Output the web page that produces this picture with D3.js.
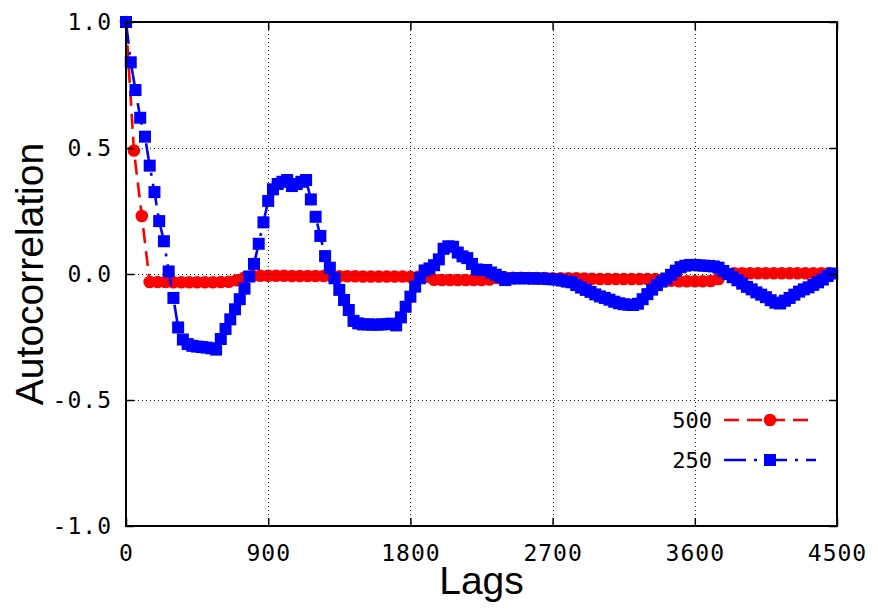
<!DOCTYPE html>
<html>
<head>
<meta charset="utf-8">
<script src="https://cdn.jsdelivr.net/npm/d3@7"></script>
<style>
  html, body { margin: 0; padding: 0; background: #fff; }
  svg { display: block; }
</style>
</head>
<body>
<svg id="chart" width="878" height="614"></svg>
<script>
// Axis ticks
const xTicks = [0, 900, 1800, 2700, 3600, 4500];
const yTicks = [-1.0, -0.5, 0.0, 0.5, 1.0];

// Series names (legend order)
const seriesNames = ["500", "250"];

// Autocorrelation, window 500: one value every 50 lags starting at lag 0
const lagStep500 = 50;
const acf500 = [
  1.0, 0.49, 0.23, -0.032, -0.032, -0.032, -0.033, -0.033, -0.033, -0.033,
  -0.033, -0.033, -0.032, -0.031, -0.025, -0.014, -0.008, -0.007, -0.007, -0.007,
  -0.007, -0.008, -0.008, -0.008, -0.008, -0.008, -0.009, -0.009, -0.009, -0.009,
  -0.010, -0.010, -0.010, -0.010, -0.010, -0.010, -0.011, -0.011, -0.011, -0.023,
  -0.024, -0.024, -0.024, -0.024, -0.024, -0.024, -0.022, -0.016, -0.015, -0.015,
  -0.015, -0.016, -0.016, -0.016, -0.017, -0.017, -0.017, -0.017, -0.018, -0.019,
  -0.020, -0.020, -0.020, -0.020, -0.020, -0.020, -0.020, -0.020, -0.021, -0.027,
  -0.029, -0.029, -0.029, -0.029, -0.028, -0.020, 0.002, 0.003, 0.003, 0.003,
  0.003, 0.003, 0.003, 0.003, 0.003, 0.003, 0.003, 0.003, 0.003, 0.003
];

// Autocorrelation, window 250: one value every 30 lags starting at lag 0
const lagStep250 = 30;
const acf250 = [
  1.0, 0.84, 0.73, 0.62, 0.545, 0.43, 0.325, 0.21, 0.13, 0.01,
  -0.095, -0.212, -0.26, -0.278, -0.285, -0.288, -0.29, -0.292, -0.295, -0.30,
  -0.258, -0.218, -0.18, -0.14, -0.10, -0.058, -0.01, 0.04, 0.12, 0.205,
  0.29, 0.336, 0.357, 0.366, 0.373, 0.349, 0.357, 0.366, 0.373, 0.296,
  0.227, 0.151, 0.071, 0.025, -0.017, -0.063, -0.103, -0.143, -0.186, -0.196,
  -0.20, -0.20, -0.201, -0.201, -0.20, -0.199, -0.197, -0.204, -0.172, -0.13,
  -0.09, -0.05, -0.017, 0.014, 0.022, 0.035, 0.058, 0.10, 0.11, 0.108,
  0.085, 0.07, 0.063, 0.04, 0.018, 0.016, 0.016, 0.006, -0.003, -0.012,
  -0.024, -0.018, -0.017, -0.017, -0.017, -0.017, -0.018, -0.018, -0.018, -0.02,
  -0.021, -0.022, -0.026, -0.03, -0.033, -0.044, -0.054, -0.063, -0.071, -0.081,
  -0.089, -0.095, -0.102, -0.11, -0.116, -0.12, -0.122, -0.123, -0.118, -0.10,
  -0.08, -0.062, -0.044, -0.03, -0.018, -0.003, 0.013, 0.027, 0.033, 0.036,
  0.036, 0.034, 0.033, 0.032, 0.03, 0.025, 0.012, 0.0, -0.013, -0.025,
  -0.038, -0.051, -0.061, -0.073, -0.082, -0.092, -0.104, -0.114, -0.117, -0.106,
  -0.095, -0.082, -0.07, -0.061, -0.053, -0.043, -0.033, -0.022, -0.008, 0.002
];

const W = 878, H = 614;
const margin = { left: 126, right: 41, top: 22, bottom: 88 };
const plotW = W - margin.left - margin.right;
const plotH = H - margin.top - margin.bottom;

const svg = d3.select("#chart");

const x = d3.scaleLinear().domain([0, 4500]).range([margin.left, margin.left + plotW]);
const y = d3.scaleLinear().domain([-1, 1]).range([margin.top + plotH, margin.top]);

const monoFont = "'DejaVu Sans Mono', monospace";
const sansFont = "'Liberation Sans', Arial, sans-serif";

const series = [
  { name: seriesNames[0], step: lagStep500, values: acf500, color: "#ff0000", dash: "15,8", marker: "circle" },
  { name: seriesNames[1], step: lagStep250, values: acf250, color: "#0000ff", dash: "22,8,3,8", marker: "square" }
];

const line = d3.line()
  .x(d => x(d.lag))
  .y(d => y(d.v));

const dataLayer = svg.append("g");

series.forEach(s => {
  const pts = s.values.map((v, i) => ({ lag: i * s.step, v }));
  const g = dataLayer.append("g");
  g.append("path")
    .datum(pts)
    .attr("d", line)
    .attr("fill", "none")
    .attr("stroke", s.color)
    .attr("stroke-width", 2.6)
    .attr("stroke-dasharray", s.dash);
  if (s.marker === "circle") {
    g.selectAll("circle").data(pts).join("circle")
      .attr("cx", d => x(d.lag))
      .attr("cy", d => y(d.v))
      .attr("r", 6.3)
      .attr("fill", s.color);
  } else {
    g.selectAll("rect").data(pts).join("rect")
      .attr("x", d => x(d.lag) - 6)
      .attr("y", d => y(d.v) - 6)
      .attr("width", 12)
      .attr("height", 12)
      .attr("fill", s.color);
  }
});

// Dotted grid, drawn over the data
const grid = svg.append("g")
  .attr("stroke", "#222")
  .attr("stroke-width", 1)
  .attr("stroke-dasharray", "1,3")
  .attr("shape-rendering", "crispEdges");
grid.selectAll("line.gx").data(xTicks.slice(1, -1)).join("line")
  .attr("x1", d => Math.round(x(d)) + 0.5).attr("x2", d => Math.round(x(d)) + 0.5)
  .attr("y1", margin.top).attr("y2", margin.top + plotH);
grid.selectAll("line.gy").data(yTicks.slice(1, -1)).join("line")
  .attr("y1", d => Math.round(y(d)) + 0.5).attr("y2", d => Math.round(y(d)) + 0.5)
  .attr("x1", margin.left).attr("x2", margin.left + plotW);

// Axes with inward ticks on all four sides; plain hyphen for negatives
const fmtY = d => d3.format(".1f")(d).replace("\u2212", "-");
const tickLen = 8;

const axB = svg.append("g")
  .attr("transform", `translate(0,${margin.top + plotH})`)
  .call(d3.axisBottom(x).tickValues(xTicks).tickSizeInner(-tickLen).tickSizeOuter(0).tickPadding(19).tickFormat(d3.format("d")));
const axL = svg.append("g")
  .attr("transform", `translate(${margin.left},0)`)
  .call(d3.axisLeft(y).tickValues(yTicks).tickSizeInner(-tickLen).tickSizeOuter(0).tickPadding(14).tickFormat(fmtY));
const axT = svg.append("g")
  .attr("transform", `translate(0,${margin.top})`)
  .call(d3.axisTop(x).tickValues(xTicks).tickSizeInner(-tickLen).tickSizeOuter(0).tickFormat(""));
const axR = svg.append("g")
  .attr("transform", `translate(${margin.left + plotW},0)`)
  .call(d3.axisRight(y).tickValues(yTicks).tickSizeInner(-tickLen).tickSizeOuter(0).tickFormat(""));

[axB, axL, axT, axR].forEach(a => {
  a.select(".domain").remove();
  a.selectAll(".tick line").attr("stroke", "#000").attr("stroke-width", 1.5);
  a.selectAll("text")
    .attr("fill", "#000")
    .style("font-family", monoFont)
    .style("font-size", "23px")
    .style("letter-spacing", "1px");
});

// Frame
svg.append("rect")
  .attr("x", margin.left).attr("y", margin.top)
  .attr("width", plotW).attr("height", plotH)
  .attr("fill", "none").attr("stroke", "#000").attr("stroke-width", 2);

// Axis titles
svg.append("text")
  .attr("x", margin.left + plotW / 2).attr("y", 594)
  .attr("text-anchor", "middle")
  .style("font-family", sansFont).style("font-size", "39px")
  .text("Lags");
svg.append("text")
  .attr("transform", `translate(43,${margin.top + plotH / 2}) rotate(-90)`)
  .attr("text-anchor", "middle")
  .style("font-family", sansFont).style("font-size", "39px")
  .text("Autocorrelation");

// Legend
const legend = svg.append("g");
series.forEach((s, i) => {
  const ly = 420 + i * 40;
  legend.append("text")
    .attr("x", 712).attr("y", ly).attr("dy", "0.35em")
    .attr("text-anchor", "end")
    .style("font-family", monoFont).style("font-size", "22px")
    .text(s.name);
  legend.append("line")
    .attr("x1", 724).attr("x2", 816).attr("y1", ly).attr("y2", ly)
    .attr("stroke", s.color).attr("stroke-width", 2.6)
    .attr("stroke-dasharray", s.dash);
  if (s.marker === "circle") {
    legend.append("circle").attr("cx", 770).attr("cy", ly).attr("r", 6.3).attr("fill", s.color);
  } else {
    legend.append("rect").attr("x", 764).attr("y", ly - 6).attr("width", 12).attr("height", 12).attr("fill", s.color);
  }
});
</script>
</body>
</html>
